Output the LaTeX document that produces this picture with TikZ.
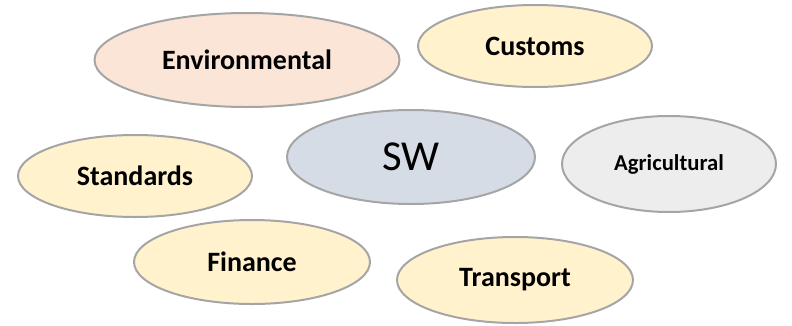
\documentclass[tikz,border=0pt]{standalone}
\usepackage{fontspec}
\setmainfont{Carlito}
\usetikzlibrary{shapes.geometric}
\definecolor{edgegray}{HTML}{A5A5A5}
\definecolor{peach}{HTML}{FBE5D6}
\definecolor{cream}{HTML}{FFF2CC}
\definecolor{bluegray}{HTML}{D6DCE5}
\definecolor{lightgray}{HTML}{EDEDED}
\tikzset{
  bubble/.style={ellipse, draw=edgegray, line width=1.5pt, inner sep=0pt,
    font=\fontsize{21}{24}\selectfont\bfseries, text=black},
}
\begin{document}
\begin{tikzpicture}[x=0.75pt,y=-0.75pt]
\useasboundingbox (0,0) rectangle (792,325);
\node[bubble, fill=peach, minimum width=228.75pt, minimum height=70.5pt] (env) at (247,60) {Environmental};
\node[bubble, fill=cream, minimum width=175.5pt, minimum height=61.5pt] (cus) at (535,46) {Customs};
\node[bubble, fill=bluegray, minimum width=186pt, minimum height=70.5pt, font=\fontsize{32}{36}\selectfont] (sw) at (411,157) {SW};
\node[bubble, fill=cream, minimum width=175.5pt, minimum height=61.5pt] (std) at (135,176) {Standards};
\node[bubble, fill=lightgray, minimum width=160.5pt, minimum height=72pt, font=\fontsize{17}{20}\selectfont\bfseries] (agr) at (669,164) {Agricultural};
\node[bubble, fill=cream, minimum width=177pt, minimum height=63pt] (fin) at (252,262) {Finance};
\node[bubble, fill=cream, minimum width=177pt, minimum height=64.5pt] (tra) at (515,280) {Transport};
\end{tikzpicture}
\end{document}
